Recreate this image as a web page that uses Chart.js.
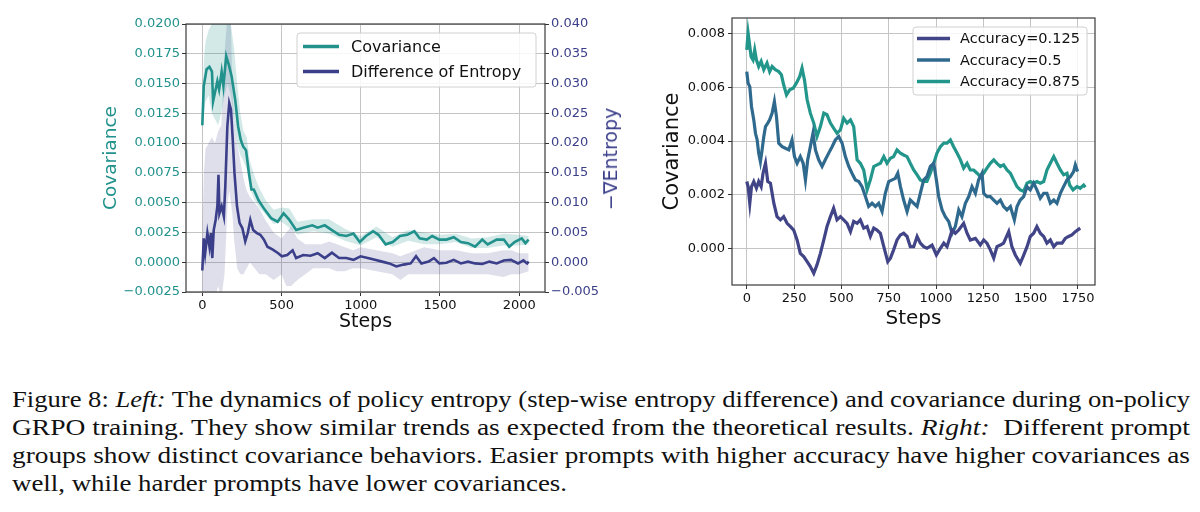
<!DOCTYPE html>
<html>
<head>
<meta charset="utf-8">
<script src="https://cdn.jsdelivr.net/npm/chart.js@4.4.0/dist/chart.umd.min.js"></script>
<style>
  body { margin: 0; background: #fff; width: 1200px; height: 512px; position: relative; overflow: hidden; }
  canvas { position: absolute; top: 0; }
  #left { left: 0; }
  #right { left: 645px; }
  .ytitle2 { position: absolute; left: 610px; top: 159px; transform: translate(-50%, -50%) rotate(-90deg);
    font: 19px "DejaVu Sans"; color: #3b3f8a; white-space: nowrap; }
  .caption { position: absolute; left: 12px; top: 384.5px; width: 1178px;
    font: 24px "Liberation Serif", "Times New Roman", serif; color: #111; line-height: 28.3px; }
  .caption div { white-space: nowrap; height: 28.3px; }
  .caption span { display: inline-block; transform-origin: 0 50%; }
</style>
</head>
<body>
<canvas id="left" width="640" height="345"></canvas>
<canvas id="right" width="555" height="345"></canvas>
<div class="ytitle2">−∇Entropy</div>
<div class="caption">
  <div><span data-w="1178">Figure 8: <i>Left:</i> The dynamics of policy entropy (step-wise entropy difference) and covariance during on-policy</span></div>
  <div><span data-w="1178">GRPO training. They show similar trends as expected from the theoretical results. <i>Right:</i>&nbsp; Different prompt</span></div>
  <div><span data-w="1178">groups show distinct covariance behaviors. Easier prompts with higher accuracy have higher covariances as</span></div>
  <div><span data-w="555">well, while harder prompts have lower covariances.</span></div>
</div>
<script>
// ---- left panel: covariance vs. entropy difference ----
const leftXTicks = [0, 500, 1000, 1500, 2000]
const leftYTicks = [-0.0025, 0, 0.0025, 0.005, 0.0075, 0.01, 0.0125, 0.015, 0.0175, 0.02]
const leftY2Ticks = [-0.005, 0, 0.005, 0.01, 0.015, 0.02, 0.025, 0.03, 0.035, 0.04]

const covSteps = [0,9,27,45,61,68,84,95,106,122,133,151,167,185,208,226,242,258,276,294,310,325,355,389,434,475,513,547,592,637,694,728,773,818,863,909,954,994,1033,1078,1112,1157,1202,1248,1293,1338,1372,1417,1451,1496,1541,1587,1632,1677,1722,1767,1801,1858,1903,1937,1971,2016,2039,2060]
const covValues = [0.0115,0.0148,0.0162,0.0164,0.0160,0.0135,0.0145,0.0152,0.0145,0.0160,0.0148,0.0173,0.0166,0.0156,0.0136,0.0114,0.0103,0.0097,0.0094,0.0075,0.0061,0.0061,0.0052,0.0045,0.0037,0.0034,0.0041,0.0036,0.0027,0.0029,0.0031,0.0029,0.0031,0.0027,0.0023,0.0022,0.0024,0.0017,0.0022,0.0026,0.0023,0.0015,0.0017,0.0022,0.0023,0.0026,0.0020,0.0019,0.0022,0.0019,0.0019,0.0021,0.0017,0.0016,0.0013,0.0019,0.0015,0.0019,0.0019,0.0013,0.0017,0.0020,0.0016,0.0019]

const covBandSteps = [0,10,20,40,60,80,100,120,140,160,180,200,220,240,260,280,300,330,360,400,450,500,550,600,700,800,900,1000,1100,1200,1300,1400,1500,1600,1700,1800,1900,2000,2060]
const covUpper = [0.0120,0.0170,0.0185,0.0195,0.0200,0.0200,0.0205,0.0205,0.0210,0.0210,0.0200,0.0180,0.0150,0.0125,0.0110,0.0105,0.0085,0.0072,0.0062,0.0052,0.0044,0.0046,0.0045,0.0034,0.0036,0.0036,0.0028,0.0022,0.0030,0.0021,0.0027,0.0025,0.0023,0.0024,0.0020,0.0021,0.0024,0.0023,0.0022]
const covLower = [0.0110,0.0125,0.0135,0.0140,0.0125,0.0120,0.0115,0.0125,0.0140,0.0150,0.0140,0.0120,0.0100,0.0090,0.0085,0.0078,0.0062,0.0052,0.0046,0.0040,0.0032,0.0034,0.0029,0.0023,0.0026,0.0024,0.0018,0.0014,0.0021,0.0013,0.0018,0.0015,0.0015,0.0017,0.0012,0.0012,0.0014,0.0014,0.0015]

const entSteps = [0,9,18,32,45,54,63,72,84,95,102,108,122,136,145,158,170,181,192,203,219,235,253,271,287,303,321,344,366,389,411,445,479,502,536,570,592,637,683,728,773,818,863,909,954,999,1044,1089,1135,1180,1225,1270,1315,1349,1383,1428,1462,1496,1541,1587,1632,1677,1722,1767,1812,1858,1903,1948,1993,2027,2050,2060]
const entValues = [-0.0014,0.0040,0.0015,0.0049,0.0026,0.0049,0.0007,0.0054,0.0071,0.0094,0.0147,0.0082,0.0094,0.0077,0.0127,0.0228,0.0267,0.0256,0.0206,0.0150,0.0094,0.0066,0.0057,0.0035,0.0049,0.0071,0.0054,0.0049,0.0046,0.0038,0.0026,0.0021,0.0015,0.0010,0.0012,0.0020,0.0007,0.0012,0.0011,0.0015,0.0007,0.0016,0.0007,0.0007,0.0004,0.0010,0.0007,0.0004,0.0001,-0.0002,-0.0007,-0.0004,-0.0002,0.0010,-0.0002,0.0001,0.0007,-0.0002,-0.0001,0.0004,-0.0002,0.0001,-0.0002,-0.0003,0.0001,-0.0002,0.0003,0.0004,-0.0002,0.0003,-0.0002,0.0001]

const entBandSteps = [0,10,20,40,60,80,100,120,140,160,170,180,190,200,220,240,260,280,300,330,360,400,450,500,530,560,600,650,700,750,800,850,900,950,1000,1100,1200,1250,1300,1400,1500,1600,1700,1800,1900,1950,2000,2060]
const entUpper = [0.005,0.015,0.019,0.020,0.021,0.020,0.022,0.023,0.035,0.042,0.042,0.040,0.030,0.024,0.020,0.017,0.014,0.012,0.011,0.010,0.009,0.007,0.005,0.004,0.005,0.006,0.004,0.003,0.003,0.003,0.0035,0.003,0.0025,0.002,0.0025,0.002,0.0015,0.001,0.0015,0.0025,0.002,0.002,0.0015,0.0015,0.002,0.002,0.0015,0.0015]
const entLower = [-0.006,-0.006,-0.006,-0.006,-0.006,-0.006,-0.004,-0.006,-0.002,0.010,0.012,0.010,0.008,0.004,-0.001,-0.002,-0.002,-0.001,0.000,-0.001,-0.002,-0.002,-0.003,-0.002,-0.004,-0.004,-0.003,-0.002,-0.001,-0.001,-0.001,-0.0015,-0.0015,-0.001,-0.001,-0.0015,-0.002,-0.003,-0.002,-0.002,-0.002,-0.002,-0.002,-0.002,-0.0025,-0.002,-0.002,-0.0015]

// ---- right panel: covariance by prompt accuracy ----
const rightXTicks = [0, 250, 500, 750, 1000, 1250, 1500, 1750]
const rightYTicks = [0, 0.002, 0.004, 0.006, 0.008]
const accLabels = ['Accuracy=0.125', 'Accuracy=0.5', 'Accuracy=0.875']

const acc125Steps = [0,7,16,25,37,51,63,76,86,99,111,125,143,160,178,195,213,231,248,266,283,301,319,336,354,371,389,407,424,442,459,477,495,512,530,548,565,583,600,618,636,653,671,688,706,724,745,759,776,794,812,829,847,864,882,900,917,935,952,979,1002,1023,1041,1058,1072,1085,1102,1120,1146,1164,1181,1208,1234,1252,1269,1287,1305,1322,1340,1357,1384,1401,1419,1445,1460,1481,1498,1516,1533,1551,1569,1586,1604,1622,1639,1666,1683,1700,1718,1736,1762]
const acc125Values = [0.00249,0.0023,0.00168,0.0023,0.00249,0.00224,0.00249,0.0023,0.0028,0.00317,0.00249,0.00243,0.00168,0.00118,0.00106,0.00118,0.00093,0.00081,0.00068,0.00031,-0.00019,-0.00031,-0.0005,-0.00068,-0.00093,-0.00062,-0.00019,0.00031,0.00081,0.00118,0.00149,0.00106,0.00118,0.00106,0.00093,0.00062,0.001,0.00093,0.00106,0.00075,0.00081,0.00044,0.00075,0.00068,0.00056,0.00006,-0.0005,-0.00037,-0.00006,0.00031,0.0005,0.00056,0.00044,0.00006,0.00006,0.00044,0.00019,0.00006,0.0,0.00012,-0.00025,0.0,0.00019,0.00006,0.00037,0.00068,0.00056,0.00068,0.00093,0.00056,0.00031,0.00037,0.00012,0.00031,0.00019,-0.00006,-0.00037,0.00006,0.00012,0.00019,0.00062,0.00006,-0.00025,-0.00056,-0.00031,0.00006,0.00044,0.00056,0.00081,0.00056,0.00044,0.00019,0.00031,0.00006,0.00019,0.00019,0.00037,0.00044,0.0005,0.00062,0.00075]

const acc05Steps = [0,7,16,25,37,46,55,63,72,81,90,99,111,121,134,146,157,169,187,204,222,239,252,266,283,298,310,322,336,350,363,380,398,415,433,451,468,486,504,521,539,556,574,592,609,627,644,662,680,697,715,732,750,768,785,798,812,829,847,864,882,900,917,935,952,970,988,1002,1014,1032,1049,1067,1085,1102,1120,1137,1155,1173,1190,1208,1225,1243,1252,1269,1287,1305,1322,1340,1357,1375,1393,1414,1428,1445,1463,1481,1498,1516,1533,1551,1569,1586,1604,1622,1639,1657,1674,1692,1710,1727,1736,1748]
const acc05Values = [0.00659,0.00616,0.00603,0.00529,0.00479,0.00429,0.00404,0.00355,0.00323,0.00367,0.00417,0.00454,0.00467,0.00479,0.00504,0.00547,0.00491,0.00392,0.00379,0.00373,0.00367,0.00404,0.00342,0.00317,0.00342,0.00317,0.00255,0.0033,0.00379,0.00429,0.00367,0.0033,0.00305,0.0033,0.00355,0.00379,0.00404,0.00417,0.00392,0.00342,0.00305,0.0028,0.00255,0.00249,0.0023,0.00193,0.00156,0.00168,0.00156,0.00168,0.00137,0.00205,0.00249,0.00255,0.00261,0.0028,0.0023,0.0018,0.00137,0.0018,0.00168,0.00156,0.00205,0.00255,0.00267,0.00305,0.00317,0.00255,0.00193,0.00143,0.00118,0.001,0.00056,0.00081,0.00143,0.00118,0.00168,0.00193,0.0023,0.00205,0.00255,0.0028,0.00205,0.00193,0.00193,0.0018,0.00168,0.0018,0.00156,0.00143,0.00156,0.00106,0.00156,0.0018,0.00193,0.0023,0.00218,0.00243,0.00218,0.00187,0.00205,0.00205,0.00168,0.0018,0.00168,0.00205,0.0023,0.00255,0.00267,0.00286,0.00311,0.00286]

const acc875Steps = [0,7,14,23,33,42,51,63,76,90,107,121,134,151,169,183,195,210,227,245,262,280,292,305,319,336,354,371,389,407,424,442,459,477,495,512,530,548,565,583,600,618,636,653,671,688,706,724,741,759,776,794,812,829,847,864,882,900,917,935,952,970,988,1005,1023,1041,1058,1076,1093,1111,1129,1146,1164,1181,1199,1217,1234,1252,1269,1287,1305,1322,1340,1357,1375,1393,1410,1428,1445,1463,1481,1498,1516,1533,1551,1569,1586,1604,1622,1639,1657,1674,1692,1706,1724,1745,1762,1780,1789]
const acc875Values = [0.0074,0.00803,0.00765,0.00715,0.00703,0.0074,0.00703,0.00678,0.00697,0.00666,0.00691,0.00659,0.00678,0.00666,0.00659,0.00647,0.0061,0.00572,0.00591,0.00597,0.00616,0.00641,0.00672,0.00628,0.00554,0.00504,0.00467,0.00417,0.00454,0.00504,0.00498,0.00467,0.00448,0.00429,0.00442,0.00485,0.00467,0.00479,0.00454,0.0033,0.00317,0.00292,0.00218,0.00255,0.00305,0.00311,0.00317,0.00342,0.00317,0.00336,0.00342,0.00367,0.00355,0.00348,0.00342,0.00317,0.00292,0.00274,0.00255,0.00249,0.00249,0.0028,0.00317,0.00355,0.00379,0.00392,0.00392,0.00404,0.00379,0.00355,0.0033,0.00299,0.00317,0.00292,0.00292,0.0028,0.00267,0.0028,0.00299,0.00317,0.0033,0.00317,0.00305,0.00311,0.00292,0.0028,0.00255,0.0023,0.00218,0.00212,0.00243,0.00249,0.00243,0.00249,0.00243,0.00249,0.00292,0.00317,0.00342,0.00317,0.00292,0.00274,0.0028,0.00236,0.00218,0.0023,0.00224,0.00236,0.00228]

const TEAL = '#21918c'
const PURPLE = '#3b3f8a'
const accColors = ['#414487', '#2f6a8e', '#22968b']

Chart.defaults.font.family = 'DejaVu Sans'
Chart.defaults.color = '#111'

// stretch each caption line to the width it has in the figure
document.querySelectorAll('.caption span').forEach(s => {
    const w = s.getBoundingClientRect().width
    s.style.transform = 'scaleX(' + (Number(s.dataset.w) / w) + ')'
})

function pts(xs, ys) {
    return xs.map((x, i) => ({ x: x, y: ys[i] }))
}

function fixTicks(list) {
    return function (scale) { scale.ticks = list.map(v => ({ value: v })) }
}

function minus(digits) {
    return v => (v < 0 ? '\u2212' : '') + Math.abs(v).toFixed(digits)
}

const plain = v => String(v)

// frame + legend box drawn on top like matplotlib
const frameLegend = {
    id: 'frameLegend',
    afterDraw(chart, args, o) {
        const ctx = chart.ctx
        const a = chart.chartArea
        ctx.save()
        ctx.strokeStyle = '#3a3a3a'
        ctx.lineWidth = 1.2
        ctx.strokeRect(a.left, a.top, a.right - a.left, a.bottom - a.top)

        ctx.beginPath()
        ctx.roundRect(o.x, o.y, o.w, o.h, 3)
        ctx.fillStyle = 'rgba(255,255,255,0.85)'
        ctx.fill()
        ctx.strokeStyle = '#d0d0d0'
        ctx.lineWidth = 1
        ctx.stroke()

        const items = chart.data.datasets.filter(d => d.legend)
        ctx.font = o.font + 'px "DejaVu Sans"'
        ctx.textBaseline = 'middle'
        items.forEach((d, i) => {
            const y = o.y + o.first + i * o.gap
            ctx.strokeStyle = d.borderColor
            ctx.lineWidth = o.lw
            ctx.beginPath()
            ctx.moveTo(o.x + o.lineStart, y)
            ctx.lineTo(o.x + o.lineStart + o.lineLen, y)
            ctx.stroke()
            ctx.fillStyle = '#111'
            ctx.fillText(d.label, o.x + o.textX, y + 1)
        })
        ctx.restore()
    }
}

new Chart(document.getElementById('left'), {
    type: 'line',
    data: {
        datasets: [
            { label: 'Covariance', legend: true, data: pts(covSteps, covValues), borderColor: TEAL, borderWidth: 2.6, pointRadius: 0, yAxisID: 'y' },
            { label: 'Difference of Entropy', legend: true, data: pts(entSteps, entValues), borderColor: PURPLE, borderWidth: 2.6, pointRadius: 0, yAxisID: 'y1' },
            { label: 'cov hi', data: pts(covBandSteps, covUpper), borderWidth: 0, pointRadius: 0, fill: false, yAxisID: 'y' },
            { label: 'cov lo', data: pts(covBandSteps, covLower), borderWidth: 0, pointRadius: 0, fill: '-1', backgroundColor: 'rgba(33,145,140,0.2)', yAxisID: 'y' },
            { label: 'ent hi', data: pts(entBandSteps, entUpper), borderWidth: 0, pointRadius: 0, fill: false, yAxisID: 'y1' },
            { label: 'ent lo', data: pts(entBandSteps, entLower), borderWidth: 0, pointRadius: 0, fill: '-1', backgroundColor: 'rgba(59,63,138,0.17)', yAxisID: 'y1' }
        ]
    },
    options: {
        responsive: false,
        animation: false,
        devicePixelRatio: 1,
        layout: { padding: { left: 100, top: 24, bottom: 12, right: 0 } },
        plugins: {
            legend: { display: false },
            tooltip: { enabled: false },
            frameLegend: { x: 297, y: 33, w: 239, h: 54, first: 13.5, gap: 25, lineStart: 6, lineLen: 36, textX: 54, font: 16, lw: 3.5 }
        },
        scales: {
            x: {
                type: 'linear', min: -103, max: 2163,
                afterBuildTicks: fixTicks(leftXTicks),
                afterFit: s => { s.height = 41 },
                ticks: { font: { size: 13 }, color: '#111', padding: 2, maxRotation: 0, callback: plain },
                grid: { color: '#c4c4c4', tickColor: '#333', tickLength: 4 },
                border: { display: false },
                title: { display: true, text: 'Steps', font: { size: 19 }, color: '#111', padding: 0 }
            },
            y: {
                position: 'left', min: -0.0025, max: 0.02,
                afterBuildTicks: fixTicks(leftYTicks),
                afterFit: s => { s.width = 86 },
                ticks: { font: { size: 13 }, color: TEAL, padding: 2, callback: minus(4) },
                grid: { color: '#c4c4c4', tickColor: '#333', tickLength: 4 },
                border: { display: false },
                title: { display: true, text: 'Covariance', font: { size: 18.5 }, color: TEAL, padding: 0 }
            },
            y1: {
                position: 'right', min: -0.005, max: 0.04,
                afterBuildTicks: fixTicks(leftY2Ticks),
                afterFit: s => { s.width = 95 },
                ticks: { font: { size: 13 }, color: PURPLE, padding: 2, callback: minus(3) },
                grid: { drawOnChartArea: false, tickColor: '#333', tickLength: 4 },
                border: { display: false }
            }
        }
    },
    plugins: [frameLegend]
})

new Chart(document.getElementById('right'), {
    type: 'line',
    data: {
        datasets: [
            { label: accLabels[0], legend: true, data: pts(acc125Steps, acc125Values), borderColor: accColors[0], borderWidth: 3.2, pointRadius: 0 },
            { label: accLabels[1], legend: true, data: pts(acc05Steps, acc05Values), borderColor: accColors[1], borderWidth: 3.2, pointRadius: 0 },
            { label: accLabels[2], legend: true, data: pts(acc875Steps, acc875Values), borderColor: accColors[2], borderWidth: 3.2, pointRadius: 0 }
        ]
    },
    options: {
        responsive: false,
        animation: false,
        devicePixelRatio: 1,
        layout: { padding: { left: 15, top: 18, bottom: 14, right: 105 } },
        plugins: {
            legend: { display: false },
            tooltip: { enabled: false },
            frameLegend: { x: 268, y: 27, w: 174, h: 68, first: 11.5, gap: 21.5, lineStart: 4, lineLen: 33, textX: 47, font: 14.5, lw: 3.5 }
        },
        scales: {
            x: {
                type: 'linear', min: -78, max: 1840,
                afterBuildTicks: fixTicks(rightXTicks),
                afterFit: s => { s.height = 46 },
                ticks: { font: { size: 13 }, color: '#111', padding: 2, maxRotation: 0, callback: plain },
                grid: { color: '#c4c4c4', tickColor: '#333', tickLength: 4 },
                border: { display: false },
                title: { display: true, text: 'Steps', font: { size: 20 }, color: '#111', padding: 0 }
            },
            y: {
                min: -0.00137, max: 0.00859,
                afterBuildTicks: fixTicks(rightYTicks),
                afterFit: s => { s.width = 72 },
                ticks: { font: { size: 13 }, color: '#111', padding: 3, callback: minus(3) },
                grid: { color: '#c4c4c4', tickColor: '#333', tickLength: 4 },
                border: { display: false },
                title: { display: true, text: 'Covariance', font: { size: 21 }, color: '#111', padding: 0 }
            }
        }
    },
    plugins: [frameLegend]
})
</script>
</body>
</html>
